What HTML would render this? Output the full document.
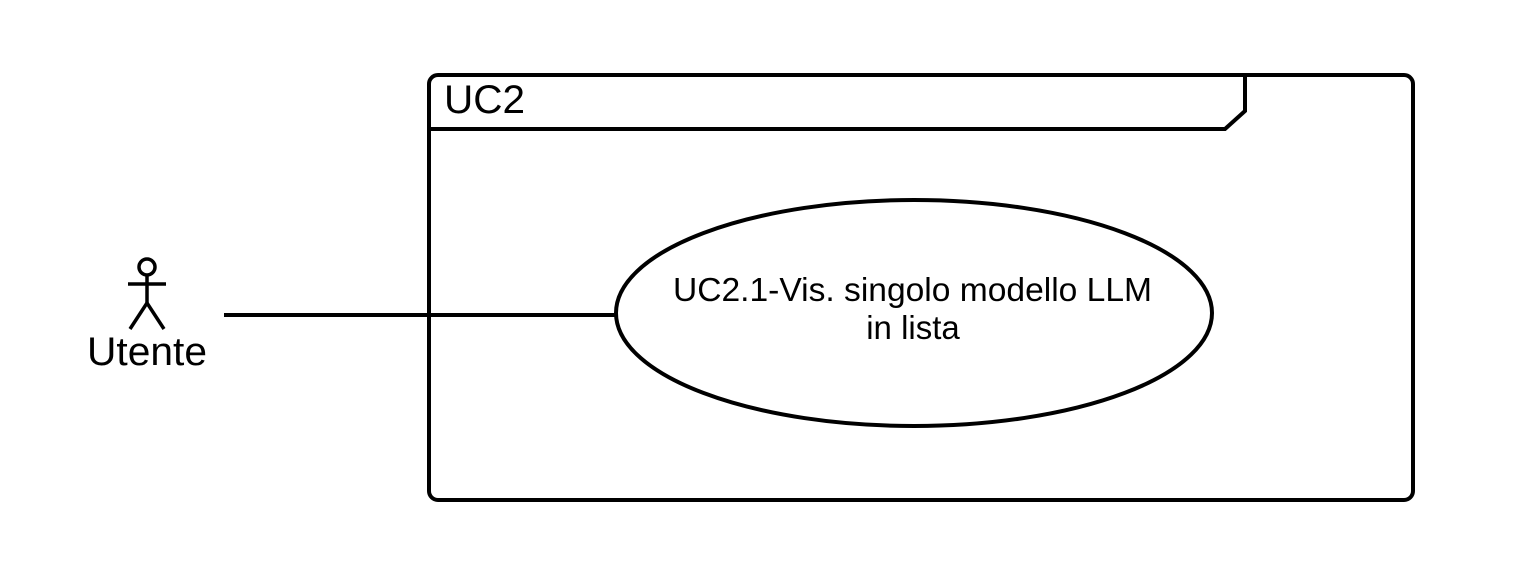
<!DOCTYPE html>
<html><head><meta charset="utf-8"><style>html,body{margin:0;padding:0;background:#fff}</style></head>
<body>
<svg width="1526" height="564" xmlns="http://www.w3.org/2000/svg" font-family="Liberation Sans, sans-serif">
<rect x="0" y="0" width="1526" height="564" fill="#fff"/>
<rect x="429" y="75" width="984" height="425" rx="9" fill="none" stroke="#000" stroke-width="4"/>
<path d="M429 129 H1225 L1245 111 V75" fill="none" stroke="#000" stroke-width="4"/>
<text x="444" y="113" font-size="40" textLength="81" lengthAdjust="spacingAndGlyphs">UC2</text>
<line x1="224" y1="315" x2="616" y2="315" stroke="#000" stroke-width="4"/>
<ellipse cx="914" cy="313" rx="298" ry="113" fill="#fff" stroke="#000" stroke-width="4"/>
<text x="673" y="301" font-size="33" textLength="479" lengthAdjust="spacingAndGlyphs">UC2.1-Vis. singolo modello LLM</text>
<text x="913" y="339" font-size="33" text-anchor="middle">in lista</text>
<g stroke="#000" stroke-width="3.5" fill="none">
<circle cx="147" cy="267" r="8"/>
<line x1="147" y1="275" x2="147" y2="303"/>
<line x1="128" y1="284" x2="166" y2="284"/>
<line x1="147" y1="303" x2="130" y2="329"/>
<line x1="147" y1="303" x2="164" y2="329"/>
</g>
<text x="87" y="365" font-size="40" textLength="120" lengthAdjust="spacingAndGlyphs">Utente</text>
</svg>
</body></html>
